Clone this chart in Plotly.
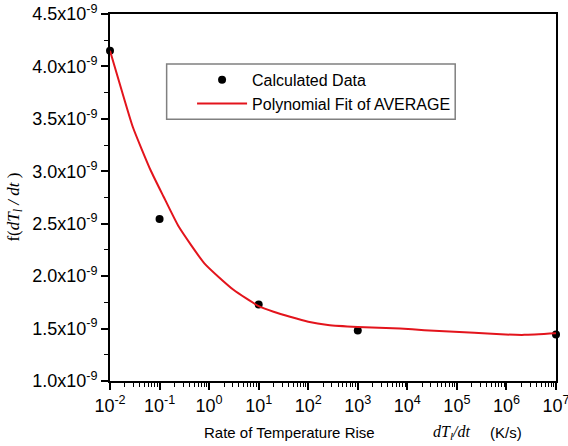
import plotly.graph_objects as go

# Calculated data points
calc_x = [1e-2, 1e-1, 1e1, 1e3, 1e7]
calc_y = [4.15e-9, 2.545e-9, 1.73e-9, 1.482e-9, 1.444e-9]

# Polynomial fit curve
fit_x = [0.01, 0.017, 0.029, 0.066, 0.12, 0.245, 0.81, 3.1, 10, 20, 43,
         100, 250, 1000, 7100, 22000, 224000, 776000, 2290000, 1e7]
fit_y = [4.15e-9, 3.78e-9, 3.42e-9, 3.01e-9, 2.76e-9, 2.47e-9, 2.12e-9,
         1.87e-9, 1.714e-9, 1.66e-9, 1.612e-9, 1.565e-9, 1.535e-9, 1.516e-9,
         1.50e-9, 1.485e-9, 1.46e-9, 1.445e-9, 1.44e-9, 1.455e-9]

# Tick labels
y_tickvals = [1.0e-9, 1.5e-9, 2.0e-9, 2.5e-9, 3.0e-9, 3.5e-9, 4.0e-9, 4.5e-9]
y_ticktext = ["1.0x10<sup>-9</sup>", "1.5x10<sup>-9</sup>", "2.0x10<sup>-9</sup>",
              "2.5x10<sup>-9</sup>", "3.0x10<sup>-9</sup>", "3.5x10<sup>-9</sup>",
              "4.0x10<sup>-9</sup>", "4.5x10<sup>-9</sup>"]
x_tickvals = [1e-2, 1e-1, 1e0, 1e1, 1e2, 1e3, 1e4, 1e5, 1e6, 1e7]
x_ticktext = ["10<sup>-2</sup>", "10<sup>-1</sup>", "10<sup>0</sup>", "10<sup>1</sup>",
              "10<sup>2</sup>", "10<sup>3</sup>", "10<sup>4</sup>", "10<sup>5</sup>",
              "10<sup>6</sup>", "10<sup>7</sup>"]
x_minor = [m * 10.0 ** e for e in range(-2, 7) for m in range(2, 10)]

FONT = "Liberation Sans, Arial, sans-serif"
SERIF = "Liberation Serif, Times New Roman, serif"

fig = go.Figure()
fig.add_trace(go.Scatter(
    x=calc_x, y=calc_y, mode="markers", name="Calculated Data",
    marker=dict(color="black", size=8), cliponaxis=False,
))
fig.add_trace(go.Scatter(
    x=fit_x, y=fit_y, mode="lines", name="Polynomial Fit of AVERAGE",
    line=dict(color="#e3141c", width=2, shape="spline", smoothing=0.5),
))

fig.update_layout(
    width=568, height=446,
    margin=dict(l=110, r=12, t=14, b=65, autoexpand=False),
    plot_bgcolor="white", paper_bgcolor="white",
    font=dict(family=FONT, size=14, color="black"),
    showlegend=True,
    legend=dict(
        x=0.184, y=0.867, xanchor="left", yanchor="top",
        bgcolor="rgba(0,0,0,0)", borderwidth=0,
        font=dict(size=16, family=FONT),
        itemwidth=50,
    ),
    shapes=[dict(type="rect", xref="paper", yref="paper",
                 x0=0.127, x1=0.774, y0=0.7134, y1=0.8636,
                 line=dict(color="#808080", width=1.5))],
    annotations=[
        dict(text="Rate of Temperature Rise",
             xref="paper", yref="paper", x=(377 - 110.3) / 445.4, y=-0.14,
             xanchor="right", yanchor="middle", showarrow=False, font=dict(size=15)),
        dict(text="<i>dT<sub>l</sub>/dt</i>",
             xref="paper", yref="paper", x=(431 - 110.3) / 445.4, y=-0.14,
             xanchor="left", yanchor="middle", showarrow=False,
             font=dict(size=16, family=SERIF)),
        dict(text="(K/s)",
             xref="paper", yref="paper", x=(488 - 110.3) / 445.4, y=-0.14,
             xanchor="left", yanchor="middle", showarrow=False, font=dict(size=15)),
        dict(text="f(<i>dT<sub>l</sub> / dt</i> )",
             xref="paper", yref="paper", x=-0.214, y=0.474, xanchor="center", yanchor="middle",
             textangle=-90, showarrow=False, font=dict(size=17, family=SERIF)),
    ],
)

fig.update_xaxes(
    type="log", range=[-2, 7], automargin=False, ticklabeloverflow="allow",
    tickmode="array", tickvals=x_tickvals, ticktext=x_ticktext,
    ticks="outside", ticklen=7, tickwidth=1.5, tickcolor="black",
    minor=dict(tickmode="array", tickvals=x_minor, ticks="outside", ticklen=4,
               tickwidth=1, tickcolor="black", showgrid=False),
    showline=True, linewidth=2, linecolor="black", mirror=True,
    showgrid=False, zeroline=False,
    tickfont=dict(size=18),
)
fig.update_yaxes(
    range=[1.0e-9, 4.5e-9], automargin=False, ticklabeloverflow="allow",
    tickmode="array", tickvals=y_tickvals, ticktext=y_ticktext,
    ticks="outside", ticklen=7, tickwidth=1.5, tickcolor="black",
    minor=dict(dtick=0.25e-9, ticks="outside", ticklen=4, tickwidth=1,
               tickcolor="black", showgrid=False),
    showline=True, linewidth=2, linecolor="black", mirror=True,
    showgrid=False, zeroline=False,
    tickfont=dict(size=18),
)

fig.write_html("out.html", config={"displayModeBar": False},
               post_script="document.body.style.margin='0';document.body.style.overflow='hidden';")
